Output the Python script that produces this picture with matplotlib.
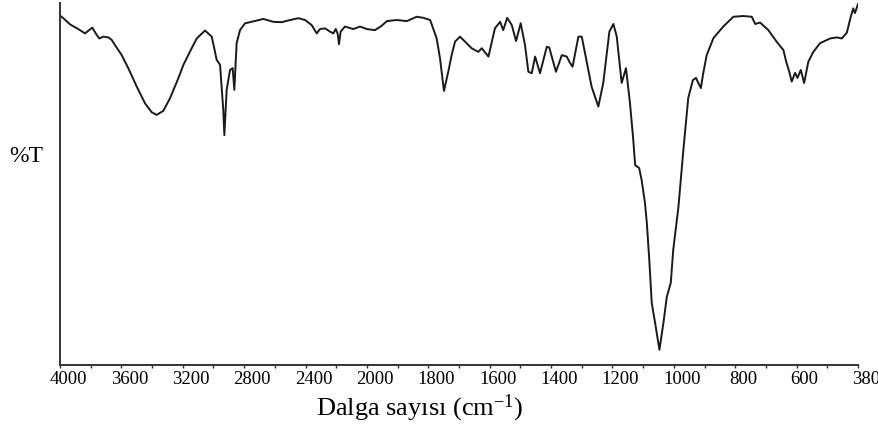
import numpy as np
import matplotlib
matplotlib.use("Agg")
import matplotlib.pyplot as plt
from matplotlib.transforms import ScaledTranslation

plt.rcParams['font.family'] = ['Liberation Serif', 'DejaVu Serif']
plt.rcParams['mathtext.fontset'] = 'custom'
plt.rcParams['mathtext.rm'] = 'Liberation Serif'
plt.rcParams['mathtext.it'] = 'Liberation Serif:italic'

# FTIR spectrum (wavenumber in cm-1, transmittance in %)
wavenumber = [4000, 3978, 3935, 3881, 3837, 3816, 3790, 3767, 3744, 3718, 3685, 3663,
              3642, 3598, 3555, 3500, 3446, 3402, 3370, 3327, 3283, 3229, 3196, 3142,
              3109, 3055, 3011, 2979, 2957, 2936, 2929, 2914, 2892, 2875, 2864, 2849,
              2827, 2794, 2762, 2675, 2610, 2555, 2501, 2447, 2403, 2360, 2327, 2306,
              2273, 2241, 2219, 2203, 2190, 2182, 2171, 2143, 2089, 2045, 2000, 1974,
              1952, 1935, 1903, 1870, 1838, 1816, 1794, 1773, 1762, 1749, 1735, 1724,
              1713, 1697, 1680, 1659, 1637, 1626, 1604, 1583, 1566, 1556, 1543, 1528,
              1514, 1499, 1485, 1474, 1463, 1452, 1436, 1414, 1406, 1384, 1365, 1349,
              1338, 1330, 1311, 1300, 1268, 1246, 1230, 1210, 1197, 1186, 1170, 1156,
              1143, 1133, 1126, 1113, 1105, 1094, 1088, 1080, 1072, 1061, 1047, 1034,
              1023, 1010, 1002, 985, 974, 969, 953, 938, 928, 912, 904, 893, 871, 839,
              806, 774, 746, 735, 719, 692, 665, 643, 634, 624, 616, 605, 597, 585,
              573, 558, 540, 516, 480, 456, 438, 420, 406, 397, 391, 380]
transmittance = [96.5, 95.8, 94.1, 92.8, 91.6, 92.3, 93.2, 91.6, 90.2, 90.7, 90.5, 89.8,
                 88.4, 85.6, 82.0, 76.9, 72.3, 69.8, 69.1, 70.2, 73.7, 79.2, 82.9, 87.5,
                 90.2, 92.4, 90.7, 84.3, 82.9, 70.4, 63.5, 76.0, 81.5, 82.0, 76.0, 88.9,
                 92.5, 94.4, 94.7, 95.6, 94.8, 94.7, 95.3, 95.8, 95.3, 93.9, 91.6, 92.8,
                 93.0, 92.1, 91.6, 92.8, 91.4, 88.6, 92.1, 93.5, 92.8, 93.5, 92.8, 92.5,
                 93.7, 95.0, 95.3, 95.0, 96.2, 95.9, 95.3, 90.3, 84.8, 75.7, 81.0, 85.6,
                 89.3, 90.7, 89.3, 87.5, 86.5, 87.5, 85.2, 93.0, 94.8, 92.5, 95.9, 93.9,
                 89.5, 94.4, 88.4, 81.0, 80.6, 85.2, 80.6, 87.9, 87.7, 81.0, 85.6, 85.2,
                 83.4, 82.4, 90.7, 90.7, 76.9, 71.4, 77.9, 92.1, 94.2, 90.7, 77.9, 82.0,
                 72.4, 63.0, 55.2, 54.4, 51.1, 44.7, 39.2, 29.0, 17.1, 11.6, 4.2, 11.6,
                 18.8, 22.7, 31.8, 43.7, 54.7, 59.4, 73.8, 78.7, 79.3, 76.5, 80.7, 85.6,
                 90.3, 93.5, 96.2, 96.4, 96.2, 94.2, 94.6, 92.5, 89.3, 87.0, 83.8, 81.0,
                 78.3, 80.7, 79.3, 81.5, 77.9, 83.8, 86.5, 88.9, 90.2, 90.5, 90.2, 91.8,
                 96.2, 98.5, 97.2, 99.7]

major_ticks = [4000, 3600, 3200, 2800, 2400, 2000, 1800, 1600, 1400, 1200, 1000, 800, 600, 380]
minor_ticks = [3800, 3400, 3000, 2600, 2200, 1900, 1700, 1500, 1300, 1100, 900, 700, 490]
x_label = 'Dalga sayısı (cm$^{\\mathregular{-1}}$)'
y_label = '%T'


# piecewise-linear FTIR wavenumber axis (increasing function; axis is reversed by xlim)
def fwd(w):
    w = np.asarray(w, dtype=float)
    u = np.where(w >= 2000, (4000 - w) / 400.0,
                 np.where(w >= 600, 5 + (2000 - w) / 200.0, 12 + (600 - w) / 220.0))
    return -u


def inv(v):
    u = -np.asarray(v, dtype=float)
    return np.where(u <= 5, 4000 - 400.0 * u,
                    np.where(u <= 12, 2000 - 200.0 * (u - 5), 600 - 220.0 * (u - 12)))


fig = plt.figure(figsize=(8.79, 4.28), dpi=100)
ax = fig.add_axes([60 / 879, 63 / 428, 798 / 879, 362 / 428])
ax.set_xscale('function', functions=(fwd, inv))
ax.plot(wavenumber, transmittance, color='#1a1a1a', lw=1.4)
ax.set_xlim(4000, 380)
ax.set_ylim(0, 100)

for s in ['top', 'right']:
    ax.spines[s].set_visible(False)
for s in ['left', 'bottom']:
    ax.spines[s].set_linewidth(1.4)
    ax.spines[s].set_color('#333333')

ax.set_yticks([])
ax.set_xticks(major_ticks)
ax.set_xticklabels([str(t) for t in major_ticks])
ax.set_xticks(minor_ticks, minor=True)
ax.tick_params(axis='x', which='both', direction='out', length=2.5, width=1,
               color='#333333', pad=1.5, labelsize=13.5)

off = ScaledTranslation(8 / 100, 0, fig.dpi_scale_trans)
for lab in ax.get_xticklabels():
    lab.set_transform(lab.get_transform() + off)

ax.set_xlabel(x_label, fontsize=19, va='center')
ax.xaxis.set_label_coords(0.451, -0.119)
ax.set_ylabel(y_label, fontsize=17, rotation=0, ha='center', va='center')
ax.yaxis.set_label_coords(-0.0426, 0.575)

fig.savefig('out.png', dpi=100)
